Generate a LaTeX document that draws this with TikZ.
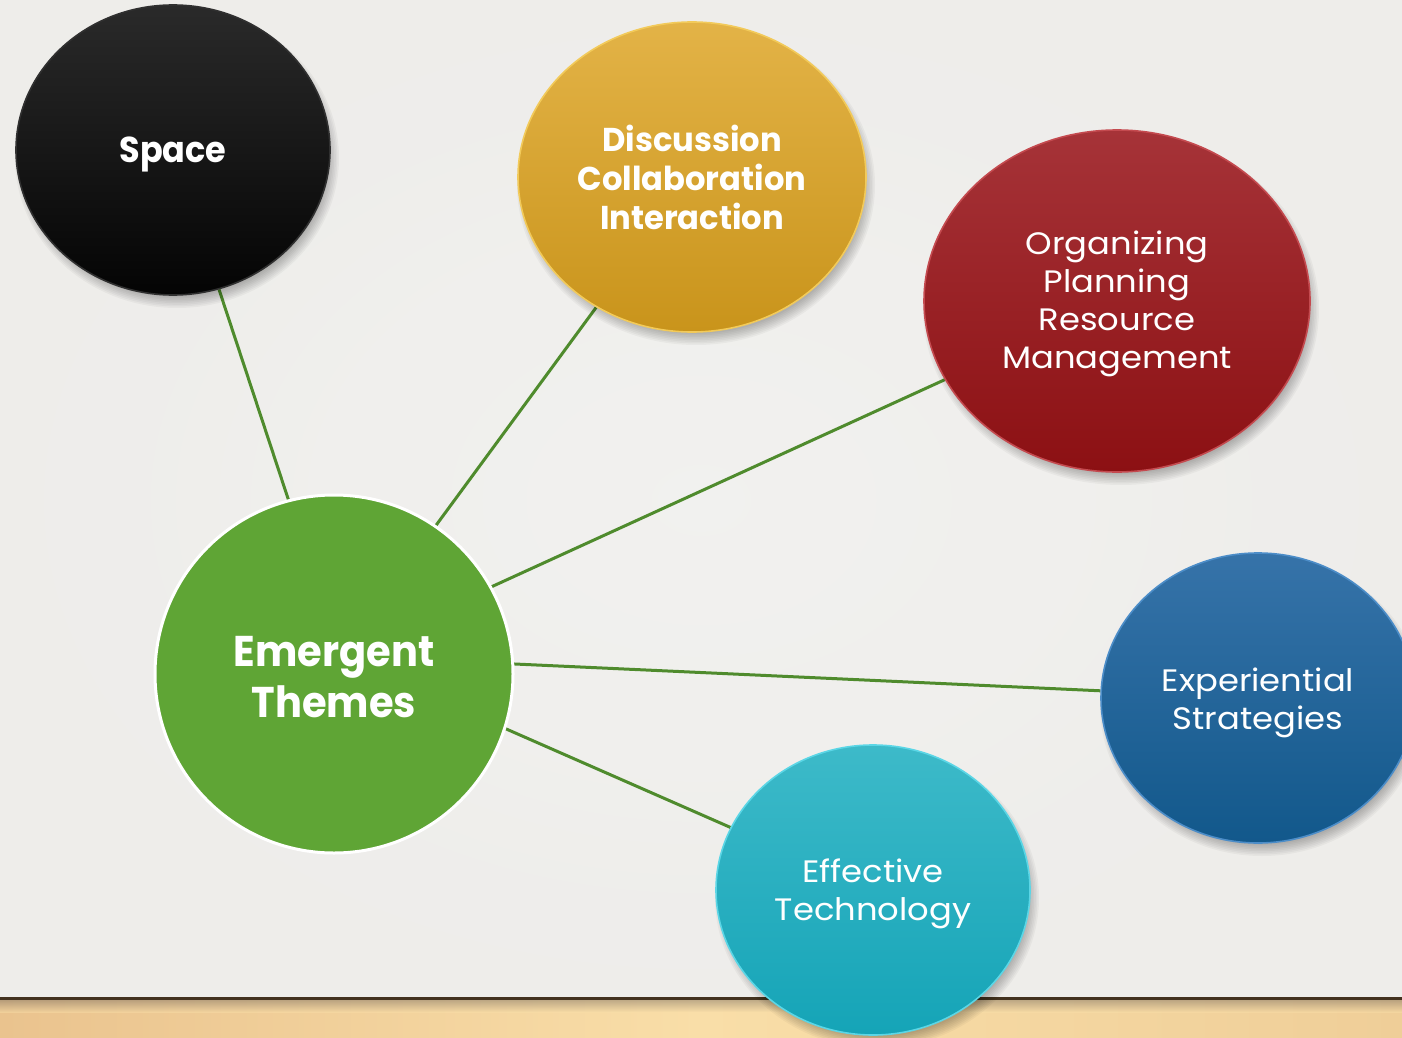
\documentclass[tikz,border=0pt]{standalone}
\usepackage{fontspec}
\setmainfont{Poppins}
\newfontfamily\regfont[FakeStretch=1.09]{Poppins}
\newfontfamily\boldfont[FakeStretch=0.93,UprightFont=* Bold]{Poppins}
\newfontfamily\boldfontb[FakeStretch=0.975,UprightFont=* Bold]{Poppins}
\usetikzlibrary{shapes.geometric}
\definecolor{bgmain}{HTML}{F0EFED}
\definecolor{bglight}{HTML}{F3F3F1}
\definecolor{bgdark}{HTML}{EDECE9}
\definecolor{woodA}{HTML}{EAC38E}
\definecolor{woodB}{HTML}{F9DEA8}
\definecolor{woodC}{HTML}{EFCE98}
\definecolor{woodline}{HTML}{43321F}
\definecolor{linkgreen}{HTML}{4F8B2D}
\definecolor{hubgreen}{HTML}{5FA535}
\definecolor{blackT}{HTML}{2A2A2A}
\definecolor{blackB}{HTML}{040404}
\definecolor{blackR}{HTML}{303030}
\definecolor{goldT}{HTML}{E3B347}
\definecolor{goldB}{HTML}{C9941B}
\definecolor{goldR}{HTML}{F2CA5A}
\definecolor{redT}{HTML}{A63338}
\definecolor{redB}{HTML}{8C1013}
\definecolor{redR}{HTML}{C44A4F}
\definecolor{blueT}{HTML}{3673A9}
\definecolor{blueB}{HTML}{12588B}
\definecolor{blueR}{HTML}{4C8DC8}
\definecolor{tealT}{HTML}{3DBAC9}
\definecolor{tealB}{HTML}{15A4B7}
\definecolor{tealR}{HTML}{5BD6E6}
\pgfdeclarelayer{bg}
\pgfdeclarelayer{lines}
\pgfdeclarelayer{shad}
\pgfsetlayers{bg,lines,shad,main}
\newcommand\softshade[4]{%
  \foreach \k in {0,...,7}{%
    \fill[black, opacity=0.035] (#1+4,#2+8) ellipse [x radius={#3+5-\k*1.6}, y radius={#4+5-\k*1.6}];
  }%
}
\begin{document}
\begin{tikzpicture}[x=0.5pt,y=-0.5pt,
  bubble/.style={ellipse, inner sep=0pt, line width=0.8pt},
  label/.style={inner sep=0pt, align=center, text=white},
  boldtxt/.style={font=\boldfontb\fontsize{16.5}{19.5}\selectfont},
  regtxt/.style={font=\regfont\fontsize{15.5}{19}\selectfont},
  link/.style={draw=linkgreen, line width=1.5pt}]
\useasboundingbox (0,0) rectangle (1402,1038);
\begin{pgfonlayer}{bg}
  \fill[bgmain] (0,0) rectangle (1402,1000);
  \shade[inner color=bglight, outer color=bgdark, opacity=0.5] (0,0) rectangle (1402,1000);
  \shade[left color=woodA, right color=woodC, middle color=woodB] (0,999) rectangle (1402,1038);
  \shade[top color=woodline!70, bottom color=woodB, opacity=0.45] (0,1000) rectangle (1402,1012);
  \draw[woodline, line width=1.5pt] (0,998.5) -- (1402,998.5);
\end{pgfonlayer}

% shapes
\node[bubble, minimum width=157pt, minimum height=145pt, top color=blackT, bottom color=blackB, draw=blackR] (sp) at (173,150) {};
\node[bubble, minimum width=174pt, minimum height=155pt, top color=goldT, bottom color=goldB, draw=goldR] (dc) at (692,177) {};
\node[bubble, minimum width=193pt, minimum height=171pt, top color=redT, bottom color=redB, draw=redR] (op) at (1117,301) {};
\node[bubble, minimum width=157pt, minimum height=145pt, top color=blueT, bottom color=blueB, draw=blueR] (es) at (1258,698) {};
\node[bubble, minimum width=157pt, minimum height=145pt, top color=tealT, bottom color=tealB, draw=tealR] (et) at (873,890) {};
\node[circle, inner sep=0pt, minimum size=179pt, fill=hubgreen, draw=white, line width=1.5pt] (em) at (334,674) {};
\coordinate (hub) at (340,656);

% texts
\node[label, font=\boldfont\fontsize{18}{21}\selectfont] (sp-t) at ([yshift=-2pt]sp.center) {Space};
\node[label, boldtxt] (dc-t) at ([yshift=0pt]dc.center) {Discussion\\Collaboration\\Interaction};
\node[label, regtxt] (op-t) at ([yshift=-1.5pt]op.center) {Organizing\\Planning\\Resource\\Management};
\node[label, regtxt] (es-t) at ([yshift=-2.5pt]es.center) {Experiential\\Strategies};
\node[label, regtxt] (et-t) at ([yshift=-2pt]et.center) {Effective\\Technology};
\node[label, font=\boldfont\fontsize{21.5}{25.5}\selectfont] (em-t) at ([yshift=-1.5pt]em.center) {Emergent\\Themes};

\begin{pgfonlayer}{shad}
  \softshade{173}{150}{157}{145}
  \softshade{692}{177}{174}{155}
  \softshade{1117}{301}{193}{171}
  \softshade{1258}{698}{157}{145}
  \softshade{873}{890}{157}{145}
\end{pgfonlayer}

\begin{pgfonlayer}{lines}
  \draw[link] (hub) -- (sp);
  \draw[link] (hub) -- (dc);
  \draw[link] (hub) -- (op);
  \draw[link] (hub) -- (es);
  \draw[link] (hub) -- (et);
\end{pgfonlayer}
\end{tikzpicture}
\end{document}
